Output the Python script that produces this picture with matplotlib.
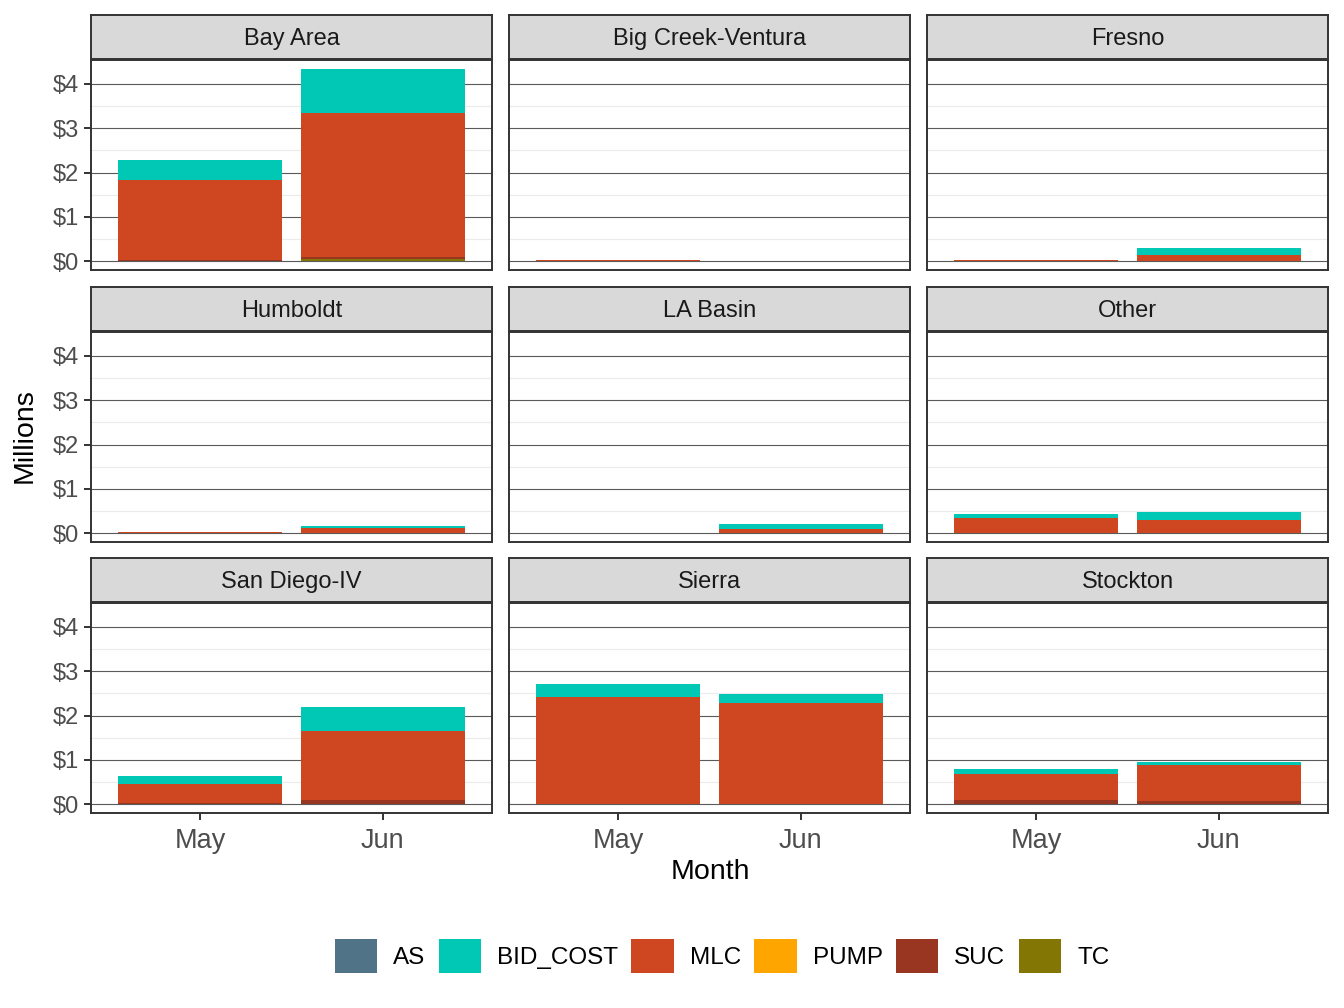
import numpy as np
import matplotlib
matplotlib.use("Agg")
import matplotlib.pyplot as plt
import matplotlib.patches as mpatches

plt.rcParams['font.family'] = ['Liberation Sans', 'DejaVu Sans']

regions = ["Bay Area", "Big Creek-Ventura", "Fresno",
           "Humboldt", "LA Basin", "Other",
           "San Diego-IV", "Sierra", "Stockton"]
months = ["May", "Jun"]

# values in millions, [May, Jun] per region, same order as regions
TC = [[0.0, 0.04], [0, 0], [0, 0], [0, 0], [0, 0], [0, 0], [0, 0], [0, 0], [0, 0]]
SUC = [[0.02, 0.06], [0, 0], [0, 0], [0, 0], [0, 0], [0, 0], [0.02, 0.09], [0, 0], [0.09, 0.07]]
PUMP = [[0, 0], [0, 0], [0, 0], [0, 0], [0, 0], [0, 0], [0, 0], [0, 0], [0, 0]]
MLC = [[1.81, 3.25], [0.03, 0.0], [0.02, 0.14], [0.015, 0.11], [0.0, 0.10], [0.35, 0.30],
       [0.43, 1.56], [2.42, 2.28], [0.59, 0.81]]
BID_COST = [[0.45, 0.98], [0, 0], [0.01, 0.15], [0.0, 0.04], [0.0, 0.11], [0.09, 0.17],
            [0.18, 0.54], [0.29, 0.21], [0.11, 0.07]]
AS = [[0, 0], [0, 0], [0, 0.01], [0, 0], [0, 0], [0, 0], [0, 0], [0, 0], [0, 0]]

# stacking order bottom -> top (ggplot puts first level on top)
series = [("TC", TC, "#837605"), ("SUC", SUC, "#983622"), ("PUMP", PUMP, "#FFA500"),
          ("MLC", MLC, "#CF4721"), ("BID_COST", BID_COST, "#00C8B4"), ("AS", AS, "#517387")]

W, H = 1344, 1008
fig = plt.figure(figsize=(W / 100, H / 100), dpi=100)

col_x = [91, 509, 927]
pan_w = 401
strip_top = [15, 287, 558]
strip_h = 44
pan_h = 210

grey20 = "#333333"
grey30 = "#4D4D4D"
yticks = [0, 1, 2, 3, 4]
ylabels = ["$0", "$1", "$2", "$3", "$4"]

for i, reg in enumerate(regions):
    r, c = divmod(i, 3)
    x0 = col_x[c]
    ys = strip_top[r] + strip_h + 1
    ax = fig.add_axes([x0 / W, 1 - (ys + pan_h) / H, pan_w / W, pan_h / H])
    xs = np.arange(1, len(months) + 1)
    bottom = np.zeros(len(months))
    for name, vals, col in series:
        v = np.array(vals[i], dtype=float)
        ax.bar(xs, v, width=0.9, bottom=bottom, color=col, linewidth=0, zorder=3)
        bottom += v
    ax.set_xlim(0.4, 2.6)
    ax.set_ylim(-0.2, 4.54)
    ax.set_yticks(yticks)
    ax.set_yticks([0.5, 1.5, 2.5, 3.5], minor=True)
    ax.grid(axis="y", which="major", color="#5a5a5a", linewidth=0.8, zorder=1)
    ax.grid(axis="y", which="minor", color="#EBEBEB", linewidth=0.8, zorder=1)
    ax.tick_params(axis="y", which="minor", length=0)
    ax.set_xticks(xs)
    for s in ax.spines.values():
        s.set_color(grey20)
        s.set_linewidth(1.4)
        s.set_zorder(5)
    ax.tick_params(axis="both", which="major", color=grey20, length=5, width=1.4,
                   labelcolor=grey30)
    ax.tick_params(axis="x", pad=6)
    if c == 0:
        ax.set_yticklabels(ylabels, fontsize=17)
    else:
        ax.set_yticklabels([])
        ax.tick_params(axis="y", length=0)
    if r == 2:
        ax.set_xticklabels(months, fontsize=19.5)
    else:
        ax.set_xticklabels([])
        ax.tick_params(axis="x", length=0)

    sax = fig.add_axes([x0 / W, 1 - (strip_top[r] + strip_h) / H, pan_w / W, strip_h / H])
    sax.set_facecolor("#D9D9D9")
    sax.set_xticks([])
    sax.set_yticks([])
    for s in sax.spines.values():
        s.set_color(grey20)
        s.set_linewidth(1.4)
    sax.text(0.5, 0.45, reg, ha="center", va="center", fontsize=17, color="#1A1A1A",
             transform=sax.transAxes)

fig.text(25 / W, 1 - 436 / H, "Millions", rotation=90, ha="center", va="center", fontsize=20.5)
fig.text(710 / W, 1 - 872 / H, "Month", ha="center", va="center", fontsize=20.5)

leg_order = ["AS", "BID_COST", "MLC", "PUMP", "SUC", "TC"]
colors = {n: col for n, _, col in series}
handles = [mpatches.Patch(facecolor=colors[n], edgecolor="none", label=n) for n in leg_order]
fig.legend(handles=handles, loc="center", bbox_to_anchor=(722 / W, 1 - 956 / H), ncol=6,
           frameon=False, fontsize=17.5, handlelength=1.75, handleheight=1.75,
           handletextpad=0.65, columnspacing=0.55, borderaxespad=0)

fig.savefig("out.png", dpi=100)
